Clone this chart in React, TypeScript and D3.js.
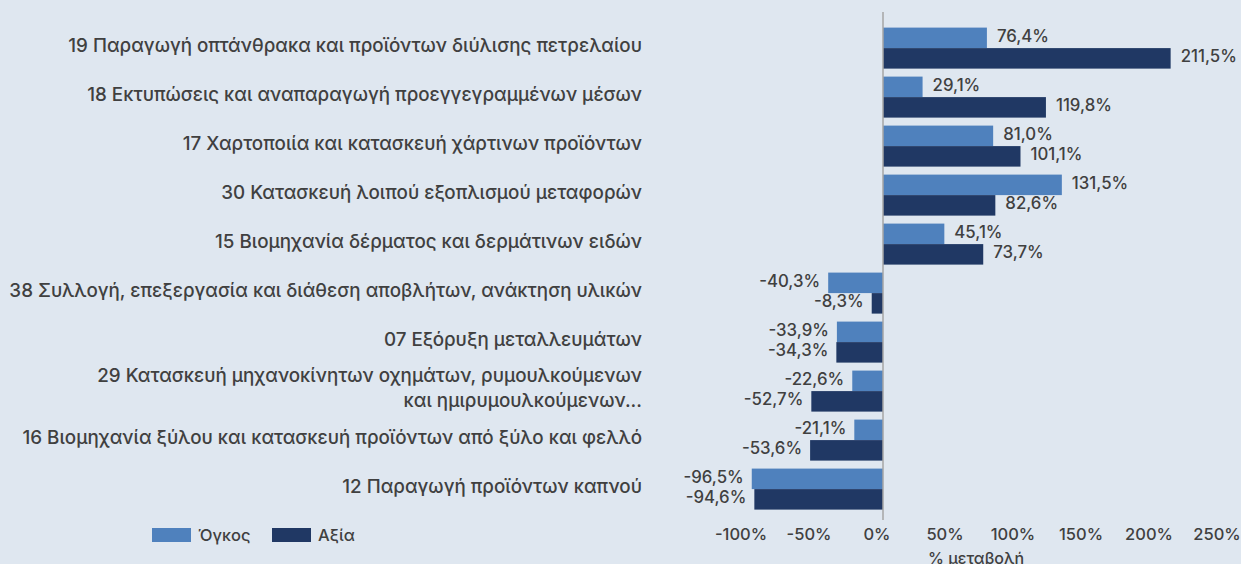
import React, { useEffect, useRef } from 'react';
import * as d3 from 'd3';

const categories: string[][] = [
  ['19 Παραγωγή οπτάνθρακα και προϊόντων διύλισης πετρελαίου'],
  ['18 Εκτυπώσεις και αναπαραγωγή προεγγεγραμμένων μέσων'],
  ['17 Χαρτοποιία και κατασκευή χάρτινων προϊόντων'],
  ['30 Κατασκευή λοιπού εξοπλισμού μεταφορών'],
  ['15 Βιομηχανία δέρματος και δερμάτινων ειδών'],
  ['38 Συλλογή, επεξεργασία και διάθεση αποβλήτων, ανάκτηση υλικών'],
  ['07 Εξόρυξη μεταλλευμάτων'],
  ['29 Κατασκευή μηχανοκίνητων οχημάτων, ρυμουλκούμενων', 'και ημιρυμουλκούμενων...'],
  ['16 Βιομηχανία ξύλου και κατασκευή προϊόντων από ξύλο και φελλό'],
  ['12 Παραγωγή προϊόντων καπνού'],
];

const volume = [76.4, 29.1, 81.0, 131.5, 45.1, -40.3, -33.9, -22.6, -21.1, -96.5];
const value = [211.5, 119.8, 101.1, 82.6, 73.7, -8.3, -34.3, -52.7, -53.6, -94.6];

const seriesNames = ['Όγκος', 'Αξία'];
const colors = ['#4f81bd', '#203864'];
const xTicks = [-100, -50, 0, 50, 100, 150, 200, 250];
const xTitle = '% μεταβολή';

const W = 1241;
const H = 564;
const FONT = 'Inter, "Noto Sans", sans-serif';
const TEXT = '#404040';

const fmt = (v: number) => d3.format('.1f')(v).replace('.', ',').replace('−', '-') + '%';

export default function App() {
  const ref = useRef<SVGSVGElement>(null);

  useEffect(() => {
    const svg = d3.select(ref.current);
    svg.selectAll('*').remove();

    svg.append('rect').attr('width', W).attr('height', H).attr('fill', '#dfe7f0');

    const x = d3.scaleLinear().domain([-100, 250]).range([747, 1223]);
    const y = d3.scaleBand<number>()
      .domain(d3.range(categories.length))
      .range([22.7, 514.5])
      .paddingInner(0.163)
      .paddingOuter(0.1);
    const ySub = d3.scaleBand<number>().domain([0, 1]).range([0, y.bandwidth()]);

    const series = [volume, value];

    // bars
    series.forEach((vals, s) => {
      vals.forEach((v, i) => {
        const y0 = (y(i) as number) + (ySub(s) as number);
        svg.append('rect')
          .attr('x', Math.min(x(0), x(v)))
          .attr('y', y0)
          .attr('width', Math.abs(x(v) - x(0)))
          .attr('height', ySub.bandwidth())
          .attr('fill', colors[s]);

        svg.append('text')
          .attr('x', v >= 0 ? x(v) + 10 : x(v) - 8)
          .attr('y', y0 + ySub.bandwidth() / 2 - 2)
          .attr('text-anchor', v >= 0 ? 'start' : 'end')
          .attr('dominant-baseline', 'central')
          .attr('fill', TEXT)
          .style('font-family', FONT)
          .style('font-size', '16.8px')
          .style('font-weight', 500)
          .text(fmt(v));
      });
    });

    // zero axis
    svg.append('line')
      .attr('x1', x(0)).attr('x2', x(0))
      .attr('y1', 12).attr('y2', 520)
      .attr('stroke', '#a6a6a6')
      .attr('stroke-width', 1.5);

    // category labels
    categories.forEach((lines, i) => {
      const cy = (y(i) as number) + y.bandwidth() / 2 - 3;
      const t = svg.append('text')
        .attr('text-anchor', 'end')
        .attr('fill', TEXT)
        .style('font-family', FONT)
        .style('font-size', '18.8px')
        .style('font-weight', 500);
      lines.forEach((ln, k) => {
        t.append('tspan')
          .attr('x', 642)
          .attr('y', cy + (k - (lines.length - 1) / 2) * 25)
          .attr('dominant-baseline', 'central')
          .text(ln);
      });
    });

    // x tick labels
    xTicks.forEach(t => {
      svg.append('text')
        .attr('x', x(t) - 6)
        .attr('y', 534)
        .attr('text-anchor', 'middle')
        .attr('dominant-baseline', 'central')
        .attr('fill', TEXT)
        .style('font-family', FONT)
        .style('font-size', '16.5px')
        .style('font-weight', 500)
        .text(`${t}%`);
    });

    svg.append('text')
      .attr('x', 976)
      .attr('y', 558)
      .attr('text-anchor', 'middle')
      .attr('dominant-baseline', 'central')
      .attr('fill', TEXT)
      .style('font-family', FONT)
      .style('font-size', '16px')
      .style('font-weight', 500)
      .text(xTitle);

    // legend
    const legendX = [152, 272];
    seriesNames.forEach((name, s) => {
      svg.append('rect')
        .attr('x', legendX[s]).attr('y', 528)
        .attr('width', 39).attr('height', 14)
        .attr('fill', colors[s]);
      svg.append('text')
        .attr('x', legendX[s] + 46)
        .attr('y', 535)
        .attr('dominant-baseline', 'central')
        .attr('fill', TEXT)
        .style('font-family', FONT)
        .style('font-size', '16.5px')
        .style('font-weight', 500)
        .text(name);
    });
  }, []);

  return (
    <div style={{ position: 'absolute', left: 0, top: 0 }}>
      <svg ref={ref} width={W} height={H} style={{ display: 'block' }} />
    </div>
  );
}
